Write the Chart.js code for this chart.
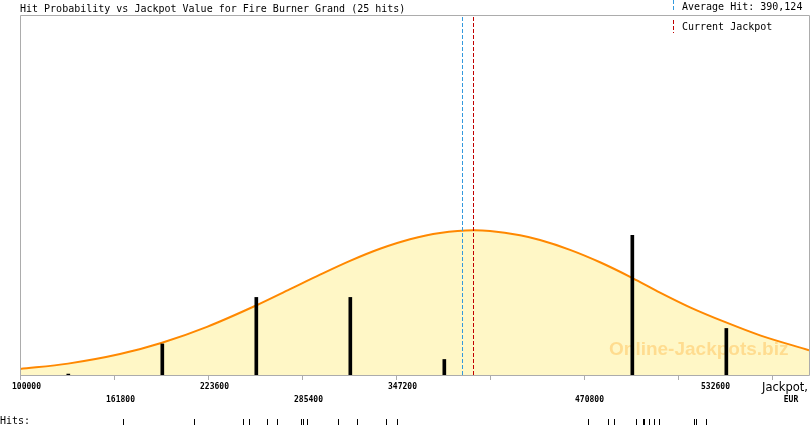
<!DOCTYPE html>
<html>
<head>
<meta charset="utf-8">
<script src="https://cdn.jsdelivr.net/npm/chart.js@4.4.1/dist/chart.umd.min.js"></script>
<style>
html,body{margin:0;padding:0;background:#fff;}
#wrap{width:810px;height:425px;position:relative;}
</style>
</head>
<body>
<div id="wrap"><canvas id="c" width="810" height="425"></canvas></div>
<script>
// ---- data ----
const titleText = 'Hit Probability vs Jackpot Value for Fire Burner Grand (25 hits)';
const binCenters = [131755, 193555, 255355, 317155, 378955, 440755, 502555, 564355];
const binCounts  = [0.06, 2, 5, 5, 1, 0, 9, 3];
const curveX = [100000, 131557, 165745, 193358, 222943, 255157, 277511, 297234, 316957, 336681, 356404, 376128, 398481, 409000, 428723, 441872, 461596, 481319, 502357, 520766, 540489, 564157, 586511, 618700];
const curveY = [0.387, 0.733, 1.348, 2.077, 3.103, 4.477, 5.529, 6.465, 7.355, 8.135, 8.748, 9.155, 9.323, 9.277, 9.0, 8.697, 8.065, 7.265, 6.265, 5.31, 4.361, 3.387, 2.555, 1.60];
const hitValues = [167520, 214593, 246413, 250752, 262192, 269161, 284742, 285860, 288884, 308871, 321362, 340428, 348052,
                   473627, 486776, 490523, 504790, 509479, 510247, 513731, 516624, 520109, 542922, 544434, 551008];
const averageHit = 390124;
const averageLabel = 'Average Hit: 390,124';
const currentJackpot = 397400;
const currentLabel = 'Current Jackpot';
const tickValues = [100000, 161800, 223600, 285400, 347200, 409000, 470800, 532600, 594400];
const tickLabels = ['100000', '161800', '223600', '285400', '347200', '', '470800', '532600', ''];
const axisTitle = ['Jackpot,', 'EUR'];
const xMin = 100000, xMax = 618700, yMax = 23.2;

// ---- layout / style (not data) ----
const tickRows   = [0, 1, 0, 1, 0, 1, 1, 0, 0];
const labelShift = [6, 6, 6, 6, 6, 0, 5, 37, 0];
const MONO = '"DejaVu Sans Mono", monospace';
const BLUE = '#3399dd', RED = '#c00000';

function vline(ctx, x, y0, y1, color) {
  ctx.strokeStyle = color;
  ctx.lineWidth = 1;
  ctx.setLineDash([4, 2]);
  ctx.beginPath();
  ctx.moveTo(x, y0);
  ctx.lineTo(x, y1);
  ctx.stroke();
  ctx.setLineDash([]);
}

const decor = {
  id: 'decor',
  beforeDraw(chart) {
    const ctx = chart.ctx;
    ctx.save();
    ctx.fillStyle = '#fff';
    ctx.fillRect(0, 0, chart.width, chart.height);
    ctx.restore();
  },
  beforeDatasetDraw(chart, args) {
    if (args.index !== 1) return;
    const ctx = chart.ctx;
    ctx.save();
    ctx.font = 'bold 19px "Liberation Sans", Arial, sans-serif';
    ctx.fillStyle = 'rgba(255,150,0,0.28)';
    ctx.textAlign = 'left';
    ctx.textBaseline = 'alphabetic';
    ctx.fillText('Online-Jackpots.biz', 609, 355);
    ctx.restore();
  },
  afterDatasetsDraw(chart) {
    const ctx = chart.ctx;
    const a = chart.chartArea;
    const xs = chart.scales.x;
    ctx.save();
    vline(ctx, Math.ceil(xs.getPixelForValue(averageHit)) + 0.5, a.top + 2, a.bottom, BLUE);
    vline(ctx, Math.ceil(xs.getPixelForValue(currentJackpot)) + 0.5, a.top + 2, a.bottom, RED);
    ctx.restore();
  },
  afterDraw(chart) {
    const ctx = chart.ctx;
    const a = chart.chartArea;
    const xs = chart.scales.x;
    ctx.save();
    // frame
    ctx.strokeStyle = '#acacac';
    ctx.lineWidth = 1;
    ctx.beginPath();
    ctx.moveTo(a.left + 0.5, a.bottom + 0.5);
    ctx.lineTo(a.left + 0.5, a.top + 0.5);
    ctx.lineTo(a.right + 0.5, a.top + 0.5);
    ctx.lineTo(a.right + 0.5, a.bottom + 0.5);
    ctx.lineTo(a.left + 0.5, a.bottom + 0.5);
    ctx.stroke();
    // ticks and labels
    ctx.fillStyle = '#000';
    ctx.textAlign = 'center';
    ctx.textBaseline = 'alphabetic';
    ctx.font = 'bold 8px ' + MONO;
    tickValues.forEach((v, i) => {
      const px = Math.round(xs.getPixelForValue(v)) + 0.5;
      ctx.beginPath();
      ctx.moveTo(px, a.bottom);
      ctx.lineTo(px, a.bottom + 5);
      ctx.stroke();
      if (tickLabels[i]) {
        ctx.fillText(tickLabels[i], px + labelShift[i], tickRows[i] === 0 ? 389 : 401.5);
      }
    });
    // axis title
    ctx.font = '11.5px "DejaVu Sans", sans-serif';
    ctx.textAlign = 'left';
    ctx.fillText(axisTitle[0], 762, 390.5);
    ctx.font = 'bold 8px ' + MONO;
    ctx.textAlign = 'center';
    ctx.fillText(axisTitle[1], 791, 401.5);
    // title
    ctx.font = '10px ' + MONO;
    ctx.textAlign = 'left';
    ctx.fillText(titleText, 20, 12);
    // legend
    ctx.fillText(averageLabel, 682, 10);
    ctx.fillText(currentLabel, 682, 30);
    vline(ctx, 673.5, 0, 12, BLUE);
    vline(ctx, 673.5, 20, 33, RED);
    // hits rug
    ctx.fillStyle = '#000';
    ctx.fillText('Hits:', 0, 424);
    ctx.strokeStyle = '#000';
    ctx.lineWidth = 1;
    hitValues.forEach(v => {
      const px = Math.round(xs.getPixelForValue(v)) + 0.5;
      ctx.beginPath();
      ctx.moveTo(px, 419);
      ctx.lineTo(px, 425);
      ctx.stroke();
    });
    ctx.restore();
  }
};

new Chart(document.getElementById('c'), {
  type: 'bar',
  data: {
    datasets: [
      {
        type: 'line',
        data: curveX.map((x, i) => ({ x: x, y: curveY[i] })),
        borderColor: '#ff8800',
        borderWidth: 2,
        backgroundColor: '#fff7c6',
        fill: 'origin',
        pointRadius: 0,
        cubicInterpolationMode: 'monotone',
        order: 3
      },
      {
        type: 'bar',
        data: binCenters.map((x, i) => ({ x: x, y: binCounts[i] })),
        backgroundColor: ctx => (ctx.raw && ctx.raw.y > 0 ? '#000' : 'rgba(0,0,0,0)'),
        barThickness: 3,
        order: 2
      }
    ]
  },
  options: {
    responsive: false,
    animation: false,
    devicePixelRatio: 1,
    layout: { padding: { left: 20, top: 15, right: 1, bottom: 50 } },
    plugins: { legend: { display: false }, tooltip: { enabled: false } },
    scales: {
      x: { type: 'linear', min: xMin, max: xMax, offset: false, display: false },
      y: { type: 'linear', min: 0, max: yMax, display: false }
    }
  },
  plugins: [decor]
});
</script>
</body>
</html>
